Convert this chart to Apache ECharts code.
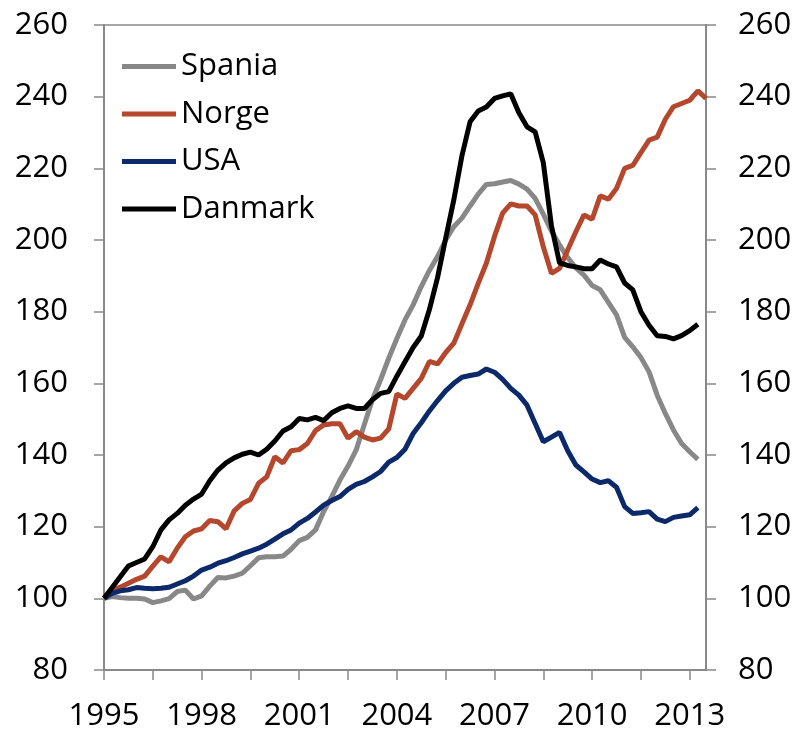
<!DOCTYPE html>
<html>
<head>
<meta charset="utf-8">
<script src="https://cdn.jsdelivr.net/npm/echarts@6/dist/echarts.min.js"></script>
<style>
html, body { margin:0; padding:0; background:#fff; }
#main { width:802px; height:733px; }
</style>
</head>
<body>
<div id="main"></div>
<script type="text/javascript">
// kvartalsvis indeks, 1995K1 = 100
var firstYear = 1995;
var quarterCount = 75;
var quarters = [];
for (var q = 0; q < quarterCount; q++) {
    quarters.push((firstYear + Math.floor(q / 4)) + 'K' + (q % 4 + 1));
}

var spania = [
    100, 100.5, 100.2, 100, 100, 99.8, 98.8, 99.3, 99.9, 101.9,
    102.3, 99.8, 100.7, 103.4, 105.8, 105.7, 106.2, 107, 109.1, 111.3,
    111.6, 111.6, 111.8, 113.7, 116.1, 117, 119.1, 124.2, 128.4, 133,
    136.9, 141.4, 148.5, 155.5, 161, 167, 172.5, 177.7, 181.9, 187,
    191.5, 195.4, 200, 203.7, 206.1, 209.5, 212.8, 215.5, 215.7, 216.2,
    216.6, 215.6, 214.2, 211.6, 207.2, 202.5, 198.6, 195.1, 192.2, 190.2,
    187.3, 186.1, 182.6, 179.1, 172.8, 170.2, 167.2, 163.2, 156.7, 151.6,
    147, 143.2, 140.9, 138.8
];
var norge = [
    100, 102.3, 103.1, 104.2, 105.3, 106.2, 109, 111.6, 110.2, 114,
    117.2, 118.8, 119.4, 121.7, 121.4, 119.4, 124.4, 126.5, 127.6, 132.1,
    133.9, 139.5, 137.8, 141.2, 141.5, 143.2, 146.8, 148.4, 148.7, 148.7,
    144.7, 146.5, 145, 144.2, 144.7, 147.3, 157, 155.8, 158.6, 161.4,
    166.1, 165.4, 168.6, 171.2, 176.6, 181.9, 187.9, 193.5, 201, 207.5,
    210.1, 209.5, 209.5, 207, 198.1, 190.7, 192.1, 197.2, 202.3, 207,
    205.8, 212.3, 211.4, 214.4, 220, 220.8, 224.4, 227.9, 228.7, 233.7,
    237.2, 238.1, 239, 241.6, 239.5
];
var usa = [
    100, 101.4, 102.1, 102.4, 103, 102.8, 102.7, 102.8, 103.1, 104,
    104.9, 106.2, 107.9, 108.7, 109.8, 110.5, 111.4, 112.4, 113.2, 114,
    115.1, 116.5, 118, 119.1, 121, 122.3, 124.1, 126, 127.3, 128.4,
    130.4, 131.8, 132.6, 133.9, 135.4, 138, 139.3, 141.6, 146, 149,
    152.3, 155.2, 157.9, 160, 161.7, 162.2, 162.6, 164, 163.1, 161.1,
    158.6, 156.7, 153.9, 148.8, 143.7, 145, 146.3, 141.2, 137.2, 135.3,
    133.3, 132.3, 132.8, 131, 125.6, 123.7, 123.9, 124.2, 122.1, 121.4,
    122.6, 123, 123.3, 125.3
];
var danmark = [
    100, 103, 106, 109, 110, 111, 114.4, 119.1, 121.9, 123.7,
    126, 127.7, 129.1, 132.8, 135.8, 137.8, 139.2, 140.2, 140.8, 140,
    141.6, 143.9, 146.7, 147.9, 150.2, 149.8, 150.5, 149.6, 151.8, 153,
    153.7, 153, 153, 155.4, 157.2, 157.7, 162, 166, 170, 173.2,
    180.6, 189.5, 200.5, 211.2, 223.5, 233, 236, 237.1, 239.5, 240.2,
    240.8, 235.5, 231.6, 230.2, 221.6, 204, 193.6, 192.9, 192.5, 192,
    192, 194.4, 193.3, 192.5, 188, 186.1, 180, 176.2, 173.3, 173.1,
    172.4, 173.3, 174.7, 176.5
];

var font = 'Open Sans';
var axisGrey = '#898989';

function valueAxis(pos, margin) {
    return {
        type: 'value',
        position: pos,
        min: 80,
        max: 260,
        interval: 20,
        axisLine: { show: true, lineStyle: { color: axisGrey, width: 2 } },
        axisTick: { show: true, length: 10, lineStyle: { color: axisGrey, width: 1.5 } },
        axisLabel: { margin: margin, color: '#000', fontFamily: font, fontSize: 31 },
        splitLine: { show: false }
    };
}

function serie(name, data, color) {
    return {
        name: name,
        type: 'line',
        data: data,
        symbol: 'none',
        showSymbol: false,
        itemStyle: { color: color },
        lineStyle: { color: color, width: 5 }
    };
}

var myChart = echarts.init(document.getElementById('main'));
var option = {
    animation: false,
    backgroundColor: '#fff',
    grid: { left: 104, right: 96, top: 25, bottom: 63, show: true, borderColor: axisGrey, borderWidth: 1.5 },
    legend: {
        orient: 'vertical',
        left: 122,
        top: 51,
        padding: 0,
        icon: 'rect',
        itemWidth: 54,
        itemHeight: 5,
        itemGap: 16.5,
        textStyle: { color: '#000', fontFamily: font, fontSize: 31, lineHeight: 31 },
        data: ['Spania', 'Norge', 'USA', 'Danmark']
    },
    xAxis: {
        type: 'category',
        data: quarters,
        boundaryGap: false,
        axisLine: { lineStyle: { color: axisGrey, width: 2 } },
        axisTick: { interval: 5, length: 10, lineStyle: { color: axisGrey, width: 1.5 } },
        axisLabel: {
            interval: 11,
            margin: 31,
            color: '#000',
            fontFamily: font,
            fontSize: 31,
            formatter: function (v) { return v.slice(0, 4); }
        },
        splitLine: { show: false }
    },
    yAxis: [valueAxis('left', 36), valueAxis('right', 32)],
    series: [
        serie('Spania', spania, '#888888'),
        serie('Norge', norge, '#b4472c'),
        serie('USA', usa, '#0c2a6a'),
        serie('Danmark', danmark, '#000000')
    ]
};
myChart.setOption(option);
</script>
</body>
</html>
